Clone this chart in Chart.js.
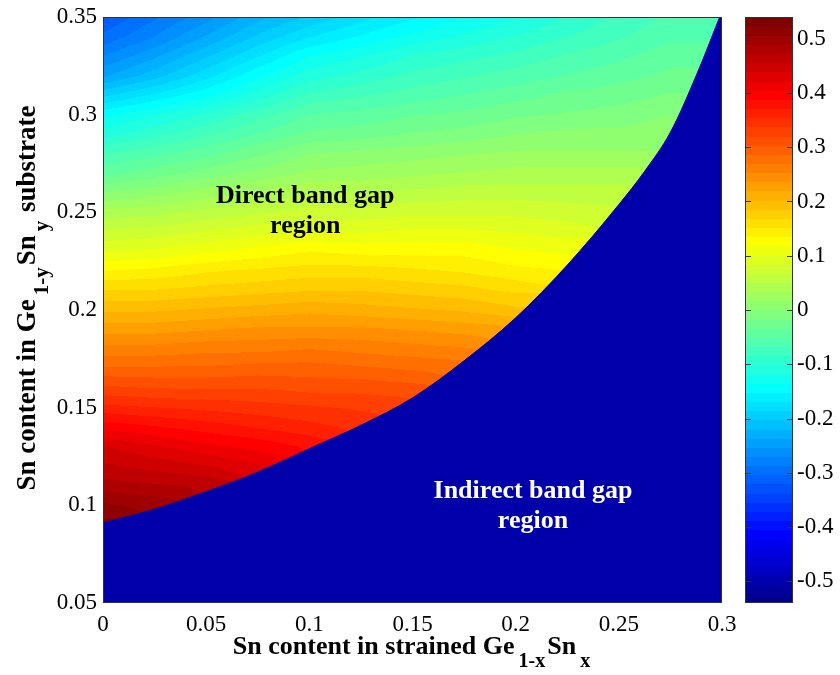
<!DOCTYPE html>
<html>
<head>
<meta charset="utf-8">
<script src="https://cdn.jsdelivr.net/npm/chart.js@4.4.0/dist/chart.umd.min.js"></script>
<style>
  html, body { margin: 0; padding: 0; background: #fff; }
  canvas { display: block; }
</style>
</head>
<body>
<canvas id="gapChart" width="840" height="675"></canvas>
<script>
// Grid nodes: Sn content in strained Ge(1-x)Sn(x) and in the Ge(1-y)Sn(y) substrate
const xs = [0, 0.025, 0.05, 0.075, 0.1, 0.125, 0.15, 0.175, 0.2, 0.225, 0.25, 0.275, 0.3];
const ys = [0.09, 0.10, 0.11, 0.12, 0.13, 0.14, 0.15, 0.16, 0.17, 0.18, 0.19, 0.20, 0.21,
            0.22, 0.23, 0.24, 0.25, 0.26, 0.27, 0.28, 0.29, 0.30, 0.31, 0.32, 0.33, 0.34, 0.35];

// Colour value at each node, one row per ys entry (null = inside the indirect region)
const _ = null;
const gapDiff = [
  [0.53, _, _, _, _, _, _, _, _, _, _, _, _],
  [0.51, 0.50, _, _, _, _, _, _, _, _, _, _, _],
  [0.48, 0.475, 0.47, _, _, _, _, _, _, _, _, _, _],
  [0.46, 0.45, 0.44, 0.425, _, _, _, _, _, _, _, _, _],
  [0.44, 0.425, 0.41, 0.40, 0.385, _, _, _, _, _, _, _, _],
  [0.40, 0.39, 0.38, 0.37, 0.36, 0.35, _, _, _, _, _, _, _],
  [0.36, 0.355, 0.35, 0.345, 0.34, 0.335, 0.33, _, _, _, _, _, _],
  [0.325, 0.32, 0.32, 0.32, 0.315, 0.315, 0.31, _, _, _, _, _, _],
  [0.29, 0.29, 0.29, 0.295, 0.295, 0.29, 0.285, 0.28, _, _, _, _, _],
  [0.26, 0.26, 0.265, 0.265, 0.27, 0.265, 0.26, 0.255, _, _, _, _, _],
  [0.23, 0.23, 0.235, 0.24, 0.24, 0.24, 0.235, 0.23, 0.225, _, _, _, _],
  [0.20, 0.20, 0.205, 0.21, 0.215, 0.21, 0.205, 0.20, 0.19, _, _, _, _],
  [0.17, 0.17, 0.175, 0.18, 0.185, 0.185, 0.18, 0.175, 0.165, _, _, _, _],
  [0.135, 0.14, 0.15, 0.155, 0.16, 0.16, 0.155, 0.15, 0.14, 0.135, _, _, _],
  [0.10, 0.105, 0.115, 0.125, 0.135, 0.13, 0.13, 0.13, 0.12, 0.115, _, _, _],
  [0.07, 0.075, 0.085, 0.095, 0.10, 0.10, 0.105, 0.105, 0.10, 0.095, _, _, _],
  [0.04, 0.045, 0.055, 0.065, 0.075, 0.075, 0.08, 0.08, 0.08, 0.075, 0.07, _, _],
  [0.00, 0.01, 0.025, 0.035, 0.05, 0.05, 0.055, 0.06, 0.06, 0.06, 0.06, _, _],
  [-0.04, -0.025, -0.01, 0.005, 0.02, 0.025, 0.03, 0.035, 0.04, 0.04, 0.04, _, _],
  [-0.07, -0.055, -0.04, -0.02, 0.00, 0.005, 0.01, 0.015, 0.02, 0.02, 0.02, _, _],
  [-0.11, -0.09, -0.07, -0.05, -0.03, -0.025, -0.015, -0.01, 0.00, 0.005, 0.005, 0.01, _],
  [-0.14, -0.12, -0.10, -0.075, -0.05, -0.045, -0.035, -0.03, -0.02, -0.015, -0.01, 0.00, _],
  [-0.19, -0.165, -0.14, -0.11, -0.08, -0.07, -0.06, -0.05, -0.04, -0.03, -0.025, -0.015, _],
  [-0.24, -0.21, -0.175, -0.14, -0.11, -0.095, -0.08, -0.07, -0.06, -0.05, -0.04, -0.03, _],
  [-0.27, -0.24, -0.205, -0.17, -0.135, -0.12, -0.10, -0.09, -0.08, -0.065, -0.055, -0.04, _],
  [-0.30, -0.27, -0.235, -0.20, -0.17, -0.15, -0.13, -0.115, -0.10, -0.085, -0.07, -0.055, -0.05],
  [-0.32, -0.29, -0.26, -0.225, -0.20, -0.175, -0.155, -0.135, -0.12, -0.10, -0.08, -0.065, -0.05]
];

// Direct / indirect boundary
const boundaryX = [0, 0.025, 0.05, 0.075, 0.1, 0.125, 0.15, 0.175, 0.2, 0.225, 0.25, 0.2625, 0.275, 0.2875, 0.3];
const boundaryY = [0.091, 0.098, 0.107, 0.117, 0.129, 0.141, 0.155, 0.174, 0.196, 0.223, 0.254, 0.271, 0.291, 0.32, 0.353];

const xTicks = [0, 0.05, 0.1, 0.15, 0.2, 0.25, 0.3];
const yTicks = [0.05, 0.1, 0.15, 0.2, 0.25, 0.3, 0.35];
const cbTicks = [-0.5, -0.4, -0.3, -0.2, -0.1, 0, 0.1, 0.2, 0.3, 0.4, 0.5];
const cbRange = [-0.54, 0.54];

const regionLabels = [
  { lines: ['Direct band gap', 'region'], x: 0.098, y: 0.2548, color: '#000' },
  { lines: ['Indirect band gap', 'region'], x: 0.2084, y: 0.1038, color: '#fff' }
];

const FONT = "'Liberation Serif', 'Times New Roman', serif";
const INDIRECT_BLUE = '#0000AA';

// MATLAB style jet colormap
function jetMap(m) {
  const n = Math.ceil(m / 4);
  const u = [];
  for (let i = 1; i <= n; i++) u.push(i / n);
  for (let i = 1; i < n; i++) u.push(1);
  for (let i = n; i >= 1; i--) u.push(i / n);
  const g0 = Math.ceil(n / 2) - (m % 4 === 1 ? 1 : 0);
  const J = Array.from({ length: m }, () => [0, 0, 0]);
  u.forEach((val, k) => {
    const g = g0 + k + 1;
    const r = g + n, b = g - n;
    if (r >= 1 && r <= m) J[r - 1][0] = val;
    if (g >= 1 && g <= m) J[g - 1][1] = val;
    if (b >= 1 && b <= m) J[b - 1][2] = val;
  });
  return J.map(c => c.map(v => Math.round(v * 255)));
}
const jet = jetMap(64);

function colorIndex(v) {
  const t = (v - cbRange[0]) / (cbRange[1] - cbRange[0]);
  return Math.min(63, Math.max(0, Math.floor(t * 64)));
}

function findCell(arr, v) {
  for (let i = 0; i < arr.length - 1; i++) {
    if (v <= arr[i + 1]) return i;
  }
  return arr.length - 2;
}

// bilinear shading between grid nodes, ignoring empty nodes
function sampleGrid(xv, yv) {
  if (yv < ys[0] || xv < xs[0]) return null;
  const i = findCell(xs, xv), j = findCell(ys, yv);
  const tx = Math.min(1, Math.max(0, (xv - xs[i]) / (xs[i + 1] - xs[i])));
  const ty = Math.min(1, Math.max(0, (yv - ys[j]) / (ys[j + 1] - ys[j])));
  const corners = [
    [gapDiff[j][i], (1 - tx) * (1 - ty)],
    [gapDiff[j][i + 1], tx * (1 - ty)],
    [gapDiff[j + 1][i], (1 - tx) * ty],
    [gapDiff[j + 1][i + 1], tx * ty]
  ];
  let sum = 0, wsum = 0, any = 0, cnt = 0;
  corners.forEach(([val, w]) => {
    if (val === null) return;
    sum += val * w; wsum += w; any += val; cnt++;
  });
  if (cnt === 0) return null;
  return wsum > 1e-9 ? sum / wsum : any / cnt;
}

function drawParts(ctx, parts, startX, baseline, size, subSize, subDrop) {
  let cx = startX;
  parts.forEach(p => {
    ctx.font = 'bold ' + (p.sub ? subSize : size) + 'px ' + FONT;
    if (p.sub) cx += 4;
    ctx.fillText(p.t, cx, baseline + (p.sub ? subDrop : 0));
    cx += ctx.measureText(p.t).width + (p.sub ? 2 : 0);
  });
}
function partsWidth(ctx, parts, size, subSize) {
  let w = 0;
  parts.forEach(p => {
    ctx.font = 'bold ' + (p.sub ? subSize : size) + 'px ' + FONT;
    w += ctx.measureText(p.t).width + (p.sub ? 6 : 0);
  });
  return w;
}

const xTitle = [
  { t: 'Sn content in strained Ge', sub: false },
  { t: '1-x', sub: true },
  { t: 'Sn', sub: false },
  { t: 'x', sub: true }
];
const yTitle = [
  { t: 'Sn content in Ge', sub: false },
  { t: '1-y', sub: true },
  { t: 'Sn', sub: false },
  { t: 'y', sub: true },
  { t: ' substrate', sub: false }
];

const heatmapPlugin = {
  id: 'heatmap',
  beforeDatasetsDraw(chart) {
    const { ctx, chartArea: a, scales: { x, y } } = chart;
    const w = Math.round(a.right - a.left), h = Math.round(a.bottom - a.top);
    const off = document.createElement('canvas');
    off.width = w; off.height = h;
    const octx = off.getContext('2d');
    const img = octx.createImageData(w, h);
    for (let py = 0; py < h; py++) {
      const yv = y.getValueForPixel(a.top + py + 0.5);
      for (let px = 0; px < w; px++) {
        const xv = x.getValueForPixel(a.left + px + 0.5);
        const v = sampleGrid(xv, yv);
        const o = (py * w + px) * 4;
        if (v === null) {
          img.data[o] = 0; img.data[o + 1] = 0; img.data[o + 2] = 170; img.data[o + 3] = 255;
          continue;
        }
        const c = jet[colorIndex(v)];
        img.data[o] = c[0]; img.data[o + 1] = c[1]; img.data[o + 2] = c[2]; img.data[o + 3] = 255;
      }
    }
    octx.putImageData(img, 0, 0);
    ctx.drawImage(off, a.left, a.top);
  },
  afterDatasetsDraw(chart) {
    const { ctx, chartArea: a, scales: { x, y } } = chart;
    ctx.save();
    ctx.textAlign = 'center';
    ctx.textBaseline = 'alphabetic';
    ctx.font = 'bold 26px ' + FONT;
    regionLabels.forEach(l => {
      const px = x.getPixelForValue(l.x), py = y.getPixelForValue(l.y);
      ctx.fillStyle = l.color;
      l.lines.forEach((s, k) => ctx.fillText(s, px, py + k * 30));
    });
    ctx.strokeStyle = '#333';
    ctx.lineWidth = 1;
    ctx.strokeRect(a.left + 0.5, a.top + 0.5, a.right - a.left - 1, a.bottom - a.top - 1);
    ctx.restore();
  },
  afterDraw(chart) {
    const { ctx, chartArea: a, scales: { cb } } = chart;
    ctx.save();
    // colour bar
    const barL = 745, barW = 48;
    const step = (cbRange[1] - cbRange[0]) / 64;
    for (let k = 0; k < 64; k++) {
      const v0 = cbRange[0] + k * step;
      const top = Math.floor(cb.getPixelForValue(v0 + step));
      const bot = Math.ceil(cb.getPixelForValue(v0));
      const c = jet[k];
      ctx.fillStyle = 'rgb(' + c[0] + ',' + c[1] + ',' + c[2] + ')';
      ctx.fillRect(barL, top, barW, bot - top);
    }
    ctx.strokeStyle = '#333';
    ctx.lineWidth = 1;
    ctx.beginPath();
    cbTicks.forEach(t => {
      const py = Math.round(cb.getPixelForValue(t)) + 0.5;
      ctx.moveTo(barL, py); ctx.lineTo(barL + 6, py);
      ctx.moveTo(barL + barW - 6, py); ctx.lineTo(barL + barW, py);
    });
    ctx.stroke();
    ctx.strokeRect(barL + 0.5, a.top + 0.5, barW - 1, a.bottom - a.top - 1);

    // axis titles with subscripts
    ctx.fillStyle = '#000';
    ctx.textAlign = 'left';
    ctx.textBaseline = 'alphabetic';
    const xw = partsWidth(ctx, xTitle, 26, 20);
    drawParts(ctx, xTitle, (a.left + a.right) / 2 - xw / 2, 654, 26, 20, 13);

    ctx.translate(35, (a.top + a.bottom) / 2 - 12);
    ctx.rotate(-Math.PI / 2);
    const yw = partsWidth(ctx, yTitle, 27, 21);
    drawParts(ctx, yTitle, -yw / 2, 0, 27, 21, 13);
    ctx.restore();
  }
};

const fmt = v => String(Math.round(v * 1000) / 1000);
// keep label overhang from shrinking the plot area
const noPad = s => { s.paddingTop = 0; s.paddingBottom = 0; s.paddingLeft = 0; s.paddingRight = 0; };

Chart.defaults.color = '#000';
Chart.defaults.font.family = FONT;
Chart.defaults.font.size = 23;

new Chart(document.getElementById('gapChart'), {
  type: 'scatter',
  data: {
    datasets: [{
      label: 'Indirect band gap region',
      data: boundaryX.map((bx, i) => ({ x: bx, y: boundaryY[i] })),
      showLine: true,
      fill: 'start',
      backgroundColor: INDIRECT_BLUE,
      borderColor: INDIRECT_BLUE,
      borderWidth: 1,
      pointRadius: 0,
      cubicInterpolationMode: 'monotone'
    }]
  },
  options: {
    responsive: false,
    animation: false,
    devicePixelRatio: 1,
    events: [],
    layout: { padding: { top: 17, left: 0, right: 0, bottom: 0 } },
    plugins: {
      legend: { display: false },
      tooltip: { enabled: false },
      filler: { drawTime: 'beforeDatasetDraw' }
    },
    scales: {
      x: {
        type: 'linear',
        min: 0,
        max: 0.3,
        afterBuildTicks: s => { s.ticks = xTicks.map(v => ({ value: v })); },
        afterFit: s => { s.height = 72; noPad(s); },
        grid: { display: false, drawTicks: false },
        border: { display: false },
        ticks: { autoSkip: false, maxRotation: 0, padding: 8, callback: fmt }
      },
      y: {
        type: 'linear',
        min: 0.05,
        max: 0.35,
        afterBuildTicks: s => { s.ticks = yTicks.map(v => ({ value: v })); },
        afterFit: s => { s.width = 103; noPad(s); },
        grid: { display: false, drawTicks: false },
        border: { display: false },
        ticks: { autoSkip: false, padding: 6, callback: fmt }
      },
      cb: {
        type: 'linear',
        position: 'right',
        display: true,
        min: cbRange[0],
        max: cbRange[1],
        afterBuildTicks: s => { s.ticks = cbTicks.map(v => ({ value: v })); },
        afterFit: s => { s.width = 118; noPad(s); },
        grid: { display: false, drawTicks: false },
        border: { display: false },
        ticks: { autoSkip: false, padding: 75, callback: fmt }
      }
    }
  },
  plugins: [heatmapPlugin]
});
</script>
</body>
</html>
